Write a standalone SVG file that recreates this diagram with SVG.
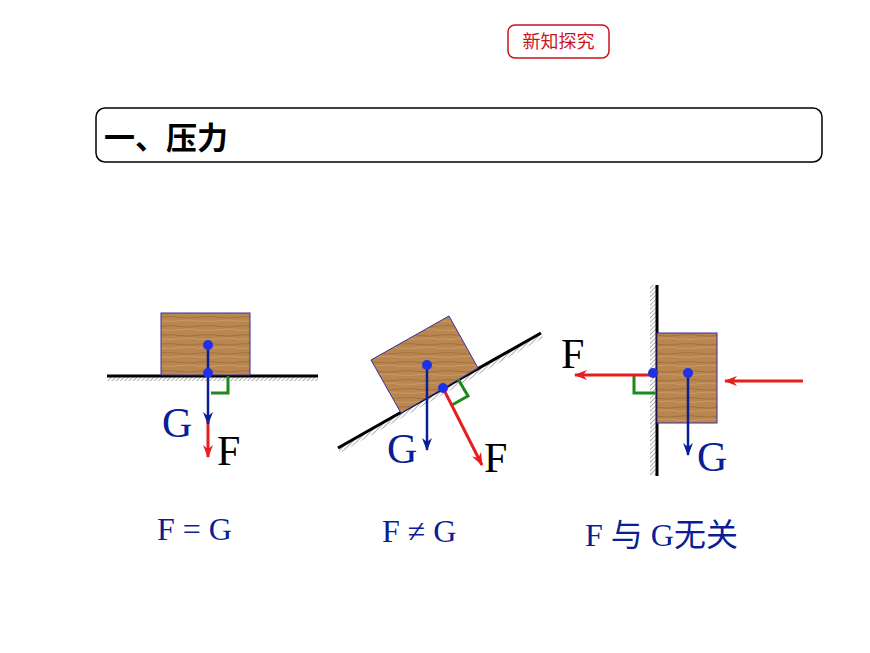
<svg xmlns="http://www.w3.org/2000/svg" width="870" height="653" viewBox="0 0 870 653">
<defs>
<pattern id="wood" width="40" height="9" patternUnits="userSpaceOnUse">
<rect width="40" height="9" fill="#b98650"/>
<path d="M0 2 Q10 1 20 2.5 T40 2" stroke="#9a6a38" stroke-width="0.8" fill="none"/>
<path d="M0 6 Q12 7 22 5.5 T40 6.5" stroke="#c99a66" stroke-width="1" fill="none"/>
</pattern>
<pattern id="hatch" width="3" height="3" patternUnits="userSpaceOnUse" patternTransform="rotate(45)">
<rect width="3" height="3" fill="#fff"/><line x1="0" y1="0" x2="0" y2="3" stroke="#777" stroke-width="1.2"/>
</pattern>
<marker id="ab" markerWidth="14" markerHeight="12" refX="12" refY="6" orient="auto" markerUnits="userSpaceOnUse"><path d="M0 1 L13 6 L0 11 L4 6Z" fill="#0a1e96"/></marker>
<marker id="ar" markerWidth="14" markerHeight="12" refX="12" refY="6" orient="auto" markerUnits="userSpaceOnUse"><path d="M0 1 L13 6 L0 11 L4 6Z" fill="#e61e1e"/></marker>
</defs>
<style>
.blk{fill:url(#wood);stroke:#3a2ca0;stroke-width:1}
.g{stroke:#0a1e96;stroke-width:2.5;fill:none;marker-end:url(#ab)}
.r{stroke:#e61e1e;stroke-width:3;fill:none;marker-end:url(#ar)}
.ra{stroke:#1a8a1a;stroke-width:3;fill:none}
.dot{fill:#2030e8}
.lt{font-family:"Liberation Serif",serif;font-size:42px;fill:#0a1e96}
.lf{font-family:"Liberation Serif",serif;font-size:42px;fill:#000}
.eq{font-family:"Liberation Serif","Noto Sans CJK SC",serif;font-size:32px;fill:#0a1e96}
</style>
<g id="header">
<rect x="508" y="25" width="101" height="33" rx="7" fill="#fff" stroke="#c8141e" stroke-width="1.5"/>
<text x="558.5" y="48" text-anchor="middle" font-family="Noto Sans CJK SC,sans-serif" font-size="18" fill="#c8141e">新知探究</text>
</g>
<g id="title">
<rect x="96" y="108" width="726" height="54" rx="9" fill="#fff" stroke="#000" stroke-width="1.5"/>
<text x="104" y="149" font-family="Noto Sans CJK SC,sans-serif" font-size="31" font-weight="bold" fill="#000">一、压力</text>
</g>
<g id="scene1">
<rect x="107" y="377" width="211" height="4" fill="url(#hatch)"/>
<line x1="107" y1="376" x2="318" y2="376" stroke="#000" stroke-width="3"/>
<rect class="blk" x="161" y="313" width="89" height="62"/>
<path class="ra" d="M228 376 V393 H211"/>
<line class="r" x1="208" y1="420" x2="208" y2="457"/>
<line class="g" x1="208" y1="345" x2="208" y2="424"/>
<circle class="dot" cx="208" cy="345" r="5"/>
<circle class="dot" cx="208" cy="373" r="5"/>
<text class="lt" x="162" y="437">G</text>
<text class="lf" x="217" y="465">F</text>
</g>
<g id="scene2">
<polygon points="338,448 541,333 543,338 340,453" fill="url(#hatch)"/>
<line x1="338" y1="448" x2="541" y2="333" stroke="#000" stroke-width="3"/>
<polygon class="blk" points="371,360 449,316 478,368 401,413"/>
<path class="ra" d="M458 379 L468 396 L452 405"/>
<line class="r" x1="443" y1="388" x2="482" y2="465"/>
<line class="g" x1="427" y1="365" x2="427" y2="450"/>
<circle class="dot" cx="427" cy="365" r="5"/>
<circle class="dot" cx="443" cy="388" r="5"/>
<text class="lt" x="387" y="463">G</text>
<text class="lf" x="484" y="472">F</text>
</g>
<g id="scene3">
<rect x="650" y="285" width="6" height="190" fill="url(#hatch)"/>
<line x1="657" y1="285" x2="657" y2="476" stroke="#000" stroke-width="3"/>
<rect class="blk" x="657" y="333" width="60" height="90"/>
<path class="ra" d="M656 393 H634 V375"/>
<line class="r" x1="653" y1="375" x2="575" y2="375"/>
<line class="r" x1="803" y1="381" x2="725" y2="381"/>
<line class="g" x1="688" y1="373" x2="688" y2="455"/>
<circle class="dot" cx="653" cy="373" r="5"/>
<circle class="dot" cx="688" cy="373" r="5"/>
<text class="lf" x="561" y="368">F</text>
<text class="lt" x="697" y="471">G</text>
</g>
<g id="labels">
<text class="eq" x="157" y="540">F = G</text>
<text class="eq" x="382" y="542">F ≠ G</text>
<text class="eq" x="585" y="546">F 与 G无关</text>
</g>
</svg>
